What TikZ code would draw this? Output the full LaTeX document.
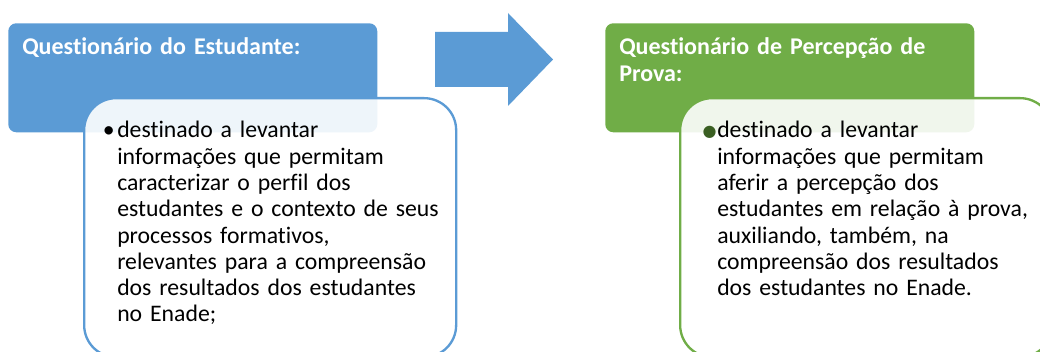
\documentclass[tikz,border=0pt]{standalone}
\usepackage{fontspec}
\setmainfont{Carlito}[Ligatures=NoCommon]
\newfontfamily\symfont{DejaVu Sans}

\definecolor{enadeBlue}{HTML}{5B9BD5}
\definecolor{enadeGreen}{HTML}{70AD47}
\definecolor{bulletGreen}{HTML}{3A5F22}

\tikzset{
  header/.style={draw=none, fill=#1, rounded corners=6pt, minimum width=276.75pt,
    minimum height=81.75pt, anchor=north west, inner sep=0pt},
  detail/.style={draw=#1, line width=1.75pt, fill=white, fill opacity=0.9,
    rounded corners=24pt, minimum width=279pt, minimum height=194.25pt,
    anchor=north west, inner sep=0pt},
  headtext/.style={text=white, font=\fontsize{18pt}{20.25pt}\selectfont\bfseries,
    text width=270pt, align=left, inner sep=0pt, anchor=base west},
  bodytext/.style={text=black, font=\fontsize{17.8pt}{19.7pt}\selectfont,
    text width=255pt, align=left, inner sep=0pt, anchor=base west}
}

\begin{document}
\begin{tikzpicture}[x=0.75pt, y=-0.75pt]
% the frame of the picture, in pixels of the slide
\useasboundingbox (0,0) rectangle (1040,352);

% left: the student questionnaire
\node[header=enadeBlue] (estudante) at (8,23) {};
\node[headtext] (estudanteTitulo) at (22,55) {Questionário do Estudante:};
\node[detail=enadeBlue] (estudanteCaixa) at (83,97) {};
\node[bodytext] (estudanteTexto) at (117,138) {\llap{•\hspace{2pt}}destinado a levantar\\
  informações que permitam\\
  caracterizar o perfil dos\\
  estudantes e o contexto de seus\\
  processos formativos,\\
  relevantes para a compreensão\\
  dos resultados dos estudantes\\
  no Enade;};

% the big arrow between the two
\fill[enadeBlue] (435,32) -- (508,32) -- (508,13) -- (553,59.5) -- (508,106)
  -- (508,87) -- (435,87) -- cycle;

% right: the test perception questionnaire
\node[header=enadeGreen] (percepcao) at (605,23) {};
\node[headtext] (percepcaoTitulo) at (619,55) {Questionário de Percepção de\\Prova:};
\node[detail=enadeGreen] (percepcaoCaixa) at (679,97) {};
\node[bodytext] (percepcaoTexto) at (717,138) {\llap{\raisebox{1.3pt}{\textcolor{bulletGreen}{\fontsize{12pt}{12pt}\symfont ●}}\hspace{0.5pt}}destinado a levantar\\
  informações que permitam\\
  aferir a percepção dos\\
  estudantes em relação à prova,\\
  auxiliando, também, na\\
  compreensão dos resultados\\
  dos estudantes no Enade.};
\end{tikzpicture}
\end{document}
